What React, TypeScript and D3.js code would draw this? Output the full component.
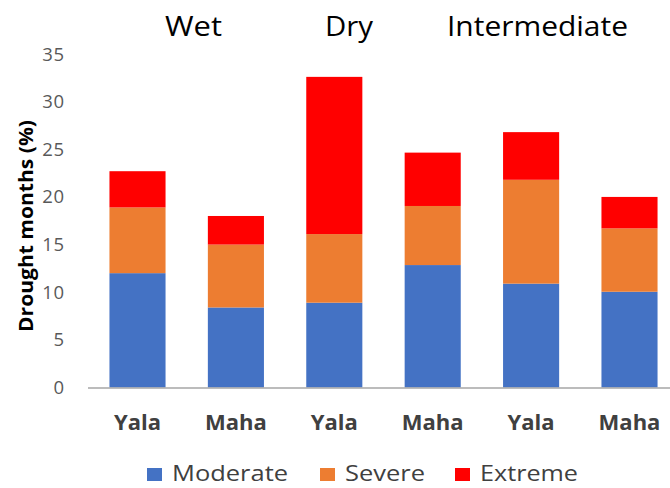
import React from "react";
import * as d3 from "d3";

const categories = ["Yala", "Maha", "Yala", "Maha", "Yala", "Maha"];
const moderate = [12.0, 8.4, 8.9, 12.85, 10.9, 10.05];
const severe = [6.9, 6.6, 7.2, 6.2, 10.9, 6.65];
const extreme = [3.8, 3.0, 16.5, 5.6, 5.0, 3.3];
const seriesNames = ["Moderate", "Severe", "Extreme"];
const seriesColors = ["#4472C4", "#ED7D31", "#FF0000"];
const yTicks = [0, 5, 10, 15, 20, 25, 30, 35];
const zoneNames = ["Wet", "Dry", "Intermediate"];

const W = 670;
const H = 488;
const FONT = "'Open Sans', 'Liberation Sans', sans-serif";

// zone heading placement (left edge, width)
const zoneX = [165, 325, 447];
const zoneW = [57, 48, 181];
// legend placement
const legendX = [147, 320, 455];
const legendTextW = [116, 80, 98];

export default function App() {
  const x = d3
    .scaleBand<number>()
    .domain(categories.map((_, i) => i))
    .range([88.3, 678.7])
    .paddingInner(0.43)
    .paddingOuter(0.215);
  const y = d3.scaleLinear().domain([0, 35]).range([387.5, 54]);

  const rows = categories.map((c, i) => ({
    i,
    Moderate: moderate[i],
    Severe: severe[i],
    Extreme: extreme[i],
  }));
  const stacked = d3.stack<any>().keys(seriesNames)(rows);

  return (
    <svg
      width={W}
      height={H}
      style={{ position: "absolute", left: 0, top: 0, background: "#fff" }}
      fontFamily={FONT}
    >
      {zoneNames.map((z, i) => (
        <text
          key={z}
          x={zoneX[i]}
          y={36}
          fontSize={27}
          textLength={zoneW[i]}
          lengthAdjust="spacingAndGlyphs"
          fill="#000"
        >
          {z}
        </text>
      ))}

      {yTicks.map((t) => (
        <text
          key={t}
          x={65}
          y={y(t) + 6.5}
          fontSize={18.5}
          letterSpacing={0.8}
          textAnchor="end"
          fill="#595959"
        >
          {t}
        </text>
      ))}

      <text
        transform={`translate(33,226) rotate(-90)`}
        fontSize={19}
        fontWeight="bold"
        textAnchor="middle"
        textLength={212}
        lengthAdjust="spacingAndGlyphs"
        fill="#000"
      >
        Drought months (%)
      </text>

      {stacked.map((s, si) => (
        <g key={s.key} fill={seriesColors[si]}>
          {s.map((d, i) => (
            <rect
              key={i}
              x={x(i)!}
              width={x.bandwidth()}
              y={y(d[1])}
              height={y(d[0]) - y(d[1])}
            />
          ))}
        </g>
      ))}

      <line x1={88} x2={670} y1={388} y2={388} stroke="#A6A6A6" strokeWidth={1.5} />

      {categories.map((c, i) => (
        <text
          key={i}
          x={x(i)! + x.bandwidth() / 2}
          y={430}
          fontSize={22}
          fontWeight="bold"
          textAnchor="middle"
          fill="#404040"
        >
          {c}
        </text>
      ))}

      {seriesNames.map((n, i) => (
        <g key={n}>
          <rect x={legendX[i]} y={468} width={15} height={13} fill={seriesColors[i]} />
          <text
            x={legendX[i] + 25}
            y={481}
            fontSize={22}
            textLength={legendTextW[i]}
            lengthAdjust="spacingAndGlyphs"
            fill="#404040"
          >
            {n}
          </text>
        </g>
      ))}
    </svg>
  );
}
